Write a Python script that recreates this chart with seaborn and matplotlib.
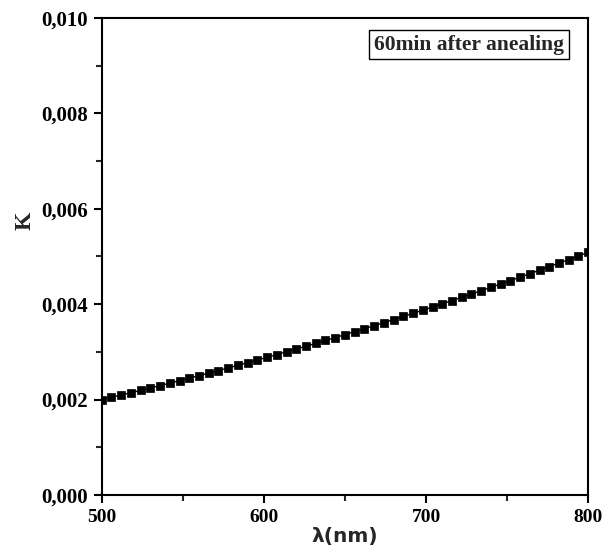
import matplotlib
matplotlib.use("Agg")
import matplotlib.pyplot as plt
import seaborn as sns
import pandas as pd
from matplotlib.ticker import FuncFormatter, MultipleLocator

# wavelength (nm) and extinction coefficient K
wavelength = [500, 506, 512, 518, 524, 530, 536, 542, 548, 554,
              560, 566, 572, 578, 584, 590, 596, 602, 608, 614,
              620, 626, 632, 638, 644, 650, 656, 662, 668, 674,
              680, 686, 692, 698, 704, 710, 716, 722, 728, 734,
              740, 746, 752, 758, 764, 770, 776, 782, 788, 794, 800]
k_values = [0.002000, 0.002048, 0.002096, 0.002144, 0.002193, 0.002243,
            0.002294, 0.002345, 0.002396, 0.002448, 0.002501, 0.002554,
            0.002608, 0.002663, 0.002718, 0.002773, 0.002830, 0.002886,
            0.002944, 0.003002, 0.003060, 0.003119, 0.003179, 0.003239,
            0.003300, 0.003362, 0.003424, 0.003486, 0.003549, 0.003613,
            0.003677, 0.003742, 0.003808, 0.003874, 0.003940, 0.004008,
            0.004075, 0.004144, 0.004213, 0.004282, 0.004352, 0.004423,
            0.004494, 0.004566, 0.004639, 0.004712, 0.004785, 0.004860,
            0.004934, 0.005010, 0.005086]
label_text = "60min after anealing"

df = pd.DataFrame({"wavelength": wavelength, "K": k_values})

sns.set_style("ticks")
plt.rcParams["font.family"] = ["Liberation Serif", "DejaVu Serif"]
plt.rcParams["font.weight"] = "bold"

fig = plt.figure(figsize=(6.02, 5.52), dpi=100)
ax = fig.add_axes([0.169, 0.1033, 0.808, 0.8641])

sns.lineplot(data=df, x="wavelength", y="K", ax=ax, color="black",
             marker="s", markersize=5.6, markeredgecolor="black",
             markeredgewidth=0.5, linewidth=1.0)

ax.set_xlim(500, 800)
ax.set_ylim(0, 0.010)
ax.xaxis.set_major_locator(MultipleLocator(100))
ax.xaxis.set_minor_locator(MultipleLocator(50))
ax.yaxis.set_major_locator(MultipleLocator(0.002))
ax.yaxis.set_minor_locator(MultipleLocator(0.001))
ax.yaxis.set_major_formatter(FuncFormatter(lambda v, p: f"{v:.3f}".replace(".", ",")))
ax.xaxis.set_major_formatter(FuncFormatter(lambda v, p: f"{v:.0f}"))

for s in ax.spines.values():
    s.set_visible(True)
    s.set_linewidth(1.5)
    s.set_color("black")

ax.tick_params(which="major", direction="out", length=6, width=1.5,
               labelsize=15, pad=4, colors="black")
ax.tick_params(axis="x", which="major", labelsize=14)
ax.tick_params(which="minor", direction="out", length=4, width=1.5)
for lbl in ax.get_xticklabels() + ax.get_yticklabels():
    lbl.set_fontweight("bold")

ax.set_xlabel("λ(nm)", fontsize=14.5, fontweight="bold", family="DejaVu Sans")
ax.xaxis.set_label_coords(0.5, -0.068)
ax.set_ylabel("K", fontsize=17, fontweight="bold")
ax.yaxis.set_label_coords(-0.135, 0.575)

ax.text(0.755, 0.944, label_text, transform=ax.transAxes, ha="center",
        va="center", fontsize=15.5, fontweight="bold",
        bbox=dict(boxstyle="square,pad=0.22", facecolor="white",
                  edgecolor="black", linewidth=1.0))

fig.savefig("out.png", dpi=100)
plt.close(fig)
